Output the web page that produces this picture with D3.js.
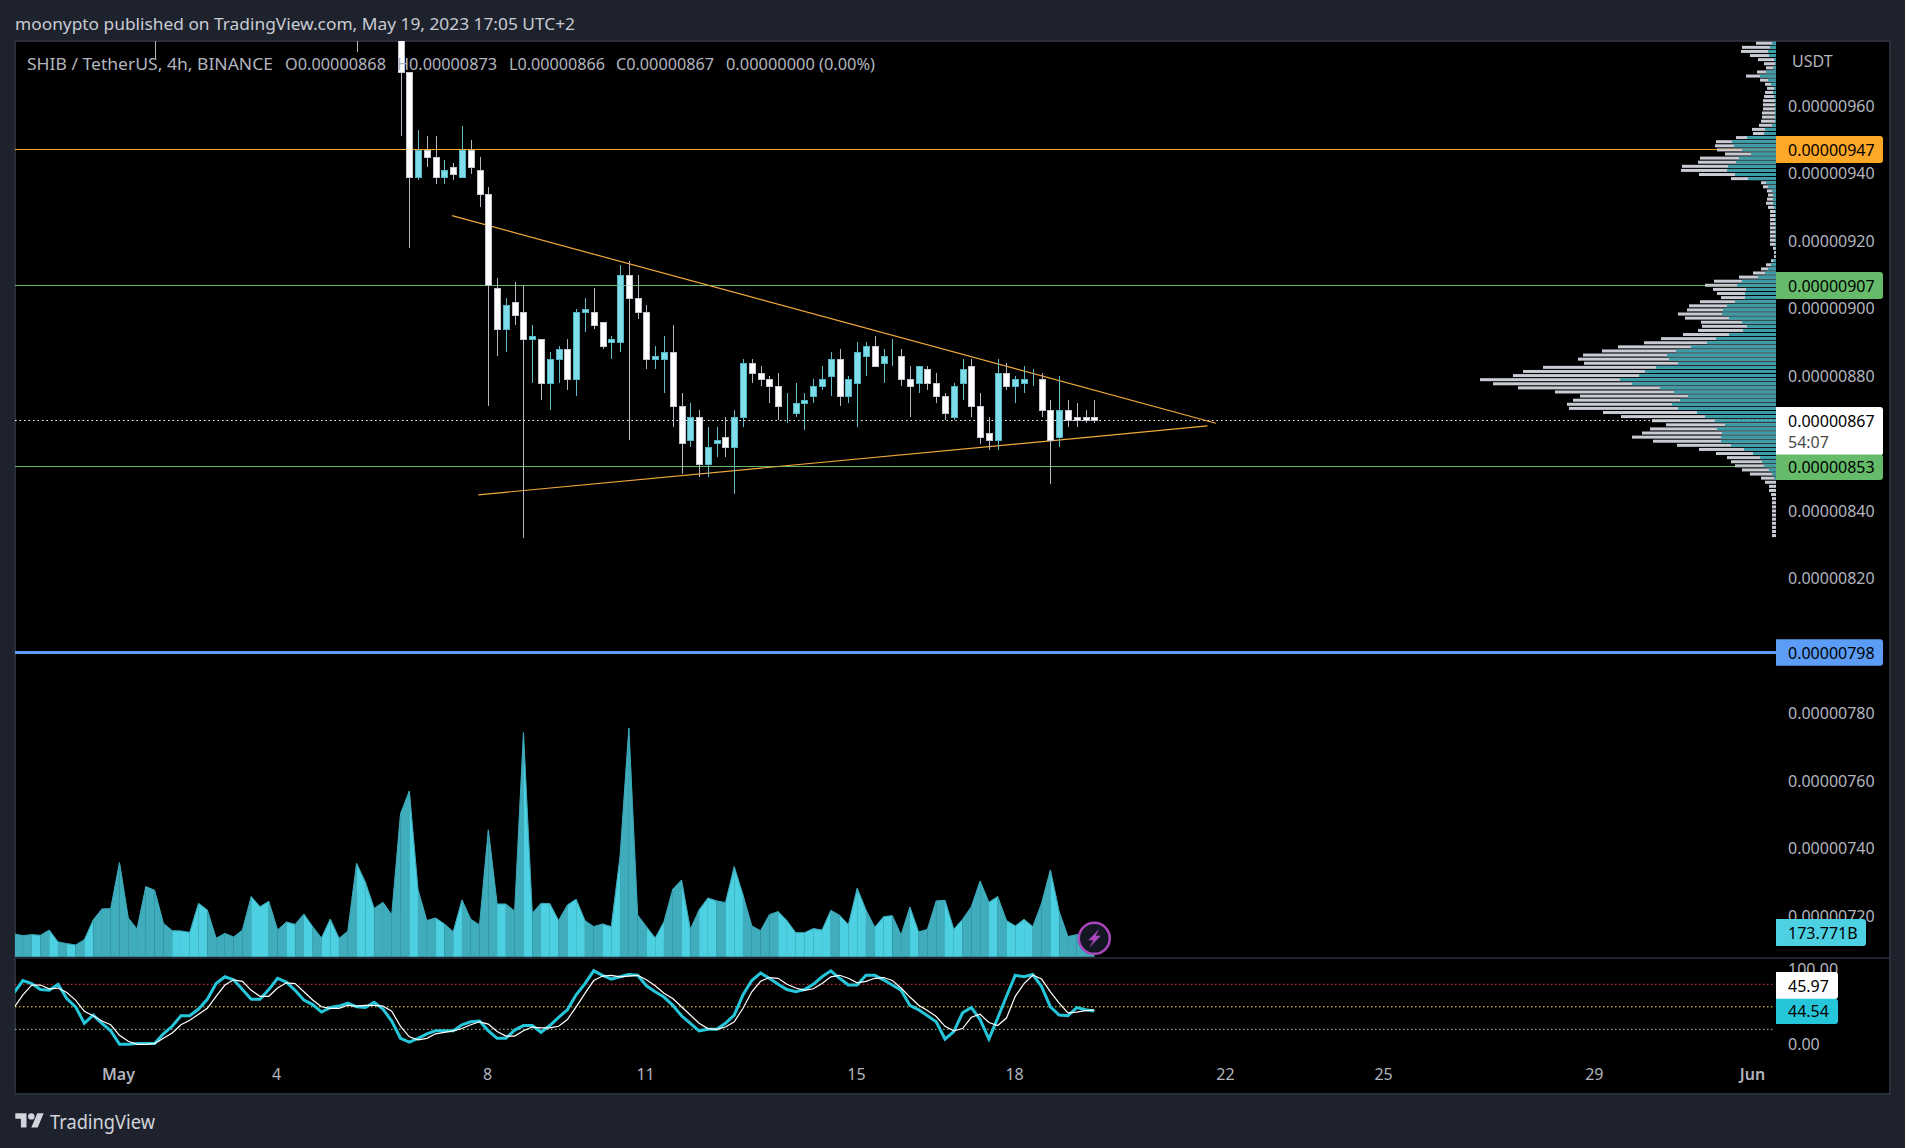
<!DOCTYPE html>
<html><head><meta charset="utf-8">
<script src="https://d3js.org/d3.v7.min.js"></script>
<style>html,body{margin:0;padding:0;background:#1E222D;overflow:hidden}svg{display:block}text{font-family:"Noto Sans",sans-serif}</style>
</head><body><svg id="c" width="1905" height="1148"></svg>
<script>
// All prices are in units of 0.00000001 USDT
const FIRST_BAR = -1;
const open  = [1000,970,939,947,945,939,942,939,947,941,934,906,894,902,899,891,891,878,885,888,879,899,899,896,890,890,910,903,899,885,885,887,871,861,868,854,860,862,859,868,884,881,879,877,870,869,872,874,877,880,885,874,878,886,889,884,886,886,879,878,882,878,874,868,878,883,871,863,861,881,877,878,879,879,870,862,870,868,868,868];
const high  = [1010,970,953,951,951,944,943,954,950,945,936,909,903,908,907,895,891,887,889,891,900,903,906,896,892,913,914,910,901,889,892,895,875,872,870,865,865,868,870,885,885,883,880,881,875,878,875,879,883,887,888,880,890,890,892,888,891,888,883,883,883,881,875,878,885,885,875,868,885,884,880,883,882,881,873,880,873,872,870,873];
const low   = [951,918,938,942,937,937,938,939,940,930,871,886,887,895,832,878,873,870,878,876,874,893,894,888,885,887,861,897,882,882,875,865,851,859,850,850,856,856,845,865,878,877,872,867,866,868,864,872,876,874,871,872,865,880,883,878,883,877,868,875,876,872,867,867,873,868,860,858,858,876,872,875,877,868,848,859,865,865,866,866];
const close = [970,939,947,945,939,941,940,947,942,934,907,894,901,898,891,892,878,885,888,879,899,900,895,889,891,910,903,899,885,886,887,871,860,868,854,859,861,859,868,884,881,879,877,871,870,872,873,877,879,885,874,879,887,889,883,886,886,879,877,883,878,874,869,877,882,871,862,861,881,877,879,879,879,870,861,870,867,867,867,867];
const earlyWickBars = [-29,-6];
const earlyWickLows = [974,976];

const FIRST_VOL_BAR = -45;
const volumes = [162,150,157,152,190,105,93,83,121,261,340,342,670,276,197,499,473,238,185,183,173,380,333,131,166,140,190,428,356,394,190,247,230,304,214,133,268,131,181,665,530,344,387,297,1017,1180,
475,257,276,233,178,404,266,226,903,375,375,325,1596,309,380,378,257,368,409,257,214,233,214,713,1627,297,214,133,249,480,546,195,333,418,397,385,641,439,219,185,299,321,257,171,171,200,190,330,295,228,487,333,209,285,292,154,354,176,195,397,401,195,266,356,539,387,428,257,219,266,214,380,618,321,143,157,170,173.771];
const earlyVolumeUp = [0,0,0,1,0,1,0,1,0,1,0,0,0,0,0,0,0,0,0,1,1,1,1,0,0,0,0,0,1,1,0,0,1,0,1,0,1,1,0,0,1,1,0,0,0];

const stochK = [69,85,81,73,72,80,61,50,28,39,28,18,0,0,1,1,1,14,24,38,38,47,60,81,90,86,73,60,60,73,88,83,72,59,53,43,49,51,55,50,49,56,47,31,8,3,8,14,18,18,18,26,30,31,18,8,
8,19,25,25,16,25,36,46,66,81,98,92,87,90,93,92,78,70,63,52,38,28,18,20,20,28,39,66,85,95,88,80,73,70,73,80,90,98,88,79,79,92,92,86,79,72,52,46,38,30,7,17,42,49,33,7,35,64,92,90,93,77,50,39,38,49,46,44.54];
const stochD = [49,66,79,79,74,75,69,59,44,38,31,26,12,4,0,0,1,8,15,26,32,40,48,64,79,86,84,72,64,64,75,82,81,70,59,50,48,48,52,51,52,52,51,44,24,10,6,8,14,16,18,21,26,30,27,17,
11,11,18,23,22,22,24,33,50,68,85,91,92,90,91,92,86,78,68,61,50,39,28,21,20,23,30,48,70,84,89,88,80,75,72,74,81,90,92,88,82,84,88,89,85,75,63,52,45,37,24,18,21,36,40,29,25,35,64,81,92,87,70,55,42,43,45,45.97];
const stochLevels = [80,50,20];
const stochLevelColors = ["#F23645","#FFEB3B","#A5D6A7"];

const PROFILE_TOP = 978.6, PROFILE_STEP = 1.2157;
const profileTotal = [60,102,105,78,54,36,30,57,90,48,33,27,33,36,39,39,39,42,42,45,51,72,69,120,180,183,177,153,228,234,282,285,231,135,45,39,27,24,27,30,24,18,18,18,18,18,18,18,18,18,9,6,6,15,30,45,69,111,186,213,189,177,165,228,261,
267,294,273,225,222,234,279,345,396,474,522,579,594,576,699,759,789,888,849,774,663,588,609,627,621,519,465,372,330,378,402,432,369,297,231,180,147,135,123,102,78,45,33,21,21,15,12,12,12,12,12,12,12,12,12,12];
const profileUp = [12,18,24,21,6,3,8,30,48,24,15,6,9,6,3,3,3,3,3,3,12,33,36,87,132,126,102,75,111,120,144,147,123,84,30,24,12,9,9,9,6,3,3,3,2,2,2,2,2,2,1,1,1,8,15,24,33,54,102,117,90,93,93,123,147,
159,162,141,102,87,99,141,180,207,255,300,327,321,294,360,393,411,468,432,348,306,264,288,312,294,237,213,183,153,177,162,165,165,135,96,69,48,42,36,21,12,6,0,0,0,0,0,0,0,0,0,0,0,0,0,0];

const priceTicks = [960,940,920,900,880,840,820,780,760,740,720];
const dayTicks = [1,4,8,11,15,18,22,25,29,32];
const dayLabels = ["May","4","8","11","15","18","22","25","29","Jun"];
const boldDayLabels = ["May","Jun"];

const hLevels = [947.2,906.9,853.2,798.2];
const hLevelColors = ["#FFA726","#66BB6A","#66BB6A","#5B9CF6"];
const hLevelWidths = [1,1,1,3];
const lastPrice = 867;
const trendDays = [[7.337,21.83],[7.836,21.67]];
const trendPrices = [[927.5,866.0],[844.8,865.2]];

const headerText = "moonypto published on TradingView.com, May 19, 2023 17:05 UTC+2";
const legendParts = ["SHIB / TetherUS, 4h, BINANCE","O0.00000868","H0.00000873","L0.00000866","C0.00000867","0.00000000 (0.00%)"];
const legendX = [27,285,397,509,616,726];
const legendW = [246,101,100,96,98,149];

// ---------- layout ----------
const L=15,R=1776,TOP=41,RIGHT=1890,BOTTOM=1094,PANE=958,VOLBASE=956.7;
const svg=d3.select("#c");
svg.append("rect").attr("width",1905).attr("height",1148).attr("fill","#1E222D");
svg.append("rect").attr("x",L).attr("y",TOP).attr("width",RIGHT-L).attr("height",BOTTOM-TOP).attr("fill","#000").attr("stroke","#2A2E39").attr("stroke-width",2);
const defs=svg.append("defs");
defs.append("clipPath").attr("id","main").append("rect").attr("x",L).attr("y",TOP).attr("width",R-L).attr("height",PANE-TOP);
defs.append("clipPath").attr("id","sub").append("rect").attr("x",L).attr("y",PANE).attr("width",R-L).attr("height",BOTTOM-PANE);

const x=d3.scaleLinear([0,78],[409.3,1094.3]);
const xDay=d3.scaleLinear([1,32],[118,1752]);
const y=d3.scaleLinear([960,720],[106,916]);
const yVol=d3.scaleLinear([0,1627],[VOLBASE,728.2]);
const yS=d3.scaleLinear([0,100],[1044.3,969.3]);
const xProf=d3.scaleLinear([0,888],[R,1480]);

const main=svg.append("g").attr("clip-path","url(#main)");

// volume (drawn per bar segment)
const volUp=i=>{const b=i+FIRST_VOL_BAR;return b<0?earlyVolumeUp[i]===1:close[b-FIRST_BAR]>=open[b-FIRST_BAR];};
const volArea=d3.area().x(d=>x(d.b)).y0(VOLBASE).y1(d=>yVol(d.v));
const volLine=d3.line().x(d=>x(d.b)).y(d=>yVol(d.v));
const vg=main.append("g");
volumes.forEach((v,i)=>{ if(i===0) return;
  const seg=[{b:i-1+FIRST_VOL_BAR,v:volumes[i-1]},{b:i+FIRST_VOL_BAR,v}];
  vg.append("path").attr("d",volArea(seg)).attr("fill",volUp(i)?"#4DD0E1":"#40ADBD").attr("stroke",volUp(i)?"#4DD0E1":"#40ADBD").attr("stroke-width",0.3);
});
vg.append("path").attr("d",volLine(volumes.map((v,i)=>({b:i+FIRST_VOL_BAR,v})))).attr("fill","none").attr("stroke","#3AA9BA").attr("stroke-width",1);

// horizontal levels and last price
const snap=(p,w)=>w===1?Math.floor(y(p))+.5:y(p);
function drawLevels(g,op){
  hLevels.forEach((p,i)=>g.append("line").attr("x1",L).attr("x2",R).attr("y1",snap(p,hLevelWidths[i])).attr("y2",snap(p,hLevelWidths[i])).attr("stroke",hLevelColors[i]).attr("stroke-width",hLevelWidths[i]).attr("opacity",op).attr("shape-rendering","crispEdges"));
  g.append("line").attr("x1",L).attr("x2",R).attr("y1",420.5).attr("y2",420.5).attr("stroke","#fff").attr("stroke-width",1).attr("stroke-dasharray","1.5,3").attr("opacity",op);
}
drawLevels(main,1);

// trendlines
const tl=d3.line().x(d=>xDay(d[0])).y(d=>y(d[1]));
trendDays.forEach((days,k)=>main.append("path").attr("d",tl(days.map((d,j)=>[d,trendPrices[k][j]]))).attr("stroke","#F2A93B").attr("stroke-width",1.2).attr("fill","none"));

// early wicks
earlyWickBars.forEach((b,i)=>main.append("line").attr("x1",Math.round(x(b))+.5).attr("x2",Math.round(x(b))+.5).attr("y1",y(1000)).attr("y2",y(earlyWickLows[i])).attr("stroke","#B4B6BE"));

// candles
open.forEach((o,i)=>{
  const b=i+FIRST_BAR,c=close[i],up=c>=o,cx=Math.round(x(b));
  main.append("line").attr("x1",cx+.5).attr("x2",cx+.5).attr("y1",y(high[i])).attr("y2",y(low[i])).attr("stroke",up?"#5FB9C6":"#B4B6BE").attr("shape-rendering","crispEdges");
  const t=Math.round(y(Math.max(o,c))),h=Math.round(y(Math.min(o,c)))-t;
  main.append("rect").attr("x",cx-2.5).attr("y",t+.5).attr("width",6).attr("height",Math.max(h,0)).attr("fill",up?"#7FDDE9":"#fff").attr("stroke",up?"#51B5C4":"#C4C6CF").attr("stroke-width",1).attr("shape-rendering","crispEdges");
});

// volume profile
const prof=main.append("g");
profileTotal.forEach((t,i)=>{
  const p=PROFILE_TOP-i*PROFILE_STEP,yy=y(p)-1.5;
  prof.append("rect").attr("x",xProf(t)).attr("y",yy).attr("width",R-xProf(t)).attr("height",3).attr("fill","#C8CBD4");
  if(profileUp[i]>0) prof.append("rect").attr("x",xProf(profileUp[i])).attr("y",yy).attr("width",R-xProf(profileUp[i])).attr("height",3).attr("fill","#3A9CA9");
});
drawLevels(main.append("g"),0.25);

// bolt button
const bolt=svg.append("g").attr("transform",`translate(${x(78)},938.3)`);
bolt.append("circle").attr("r",15.5).attr("fill","#131722").attr("stroke","#AB47BC").attr("stroke-width",2.5);
bolt.append("path").attr("d","M5,-9.5 L-6,2 L-1,2 L-5,9.5 L6.5,-2.5 L1.5,-2.5 Z").attr("fill","#AB47BC");

// pane divider
svg.append("line").attr("x1",L).attr("x2",RIGHT).attr("y1",PANE).attr("y2",PANE).attr("stroke","#2A2E39").attr("stroke-width",1.5);

// stoch pane
const sub=svg.append("g").attr("clip-path","url(#sub)");
stochLevels.forEach((v,i)=>sub.append("line").attr("x1",L).attr("x2",1774).attr("y1",yS(v)).attr("y2",yS(v)).attr("stroke",stochLevelColors[i]).attr("stroke-dasharray","1.5,2.5"));
const sl=d3.line().x((d,i)=>x(i+FIRST_VOL_BAR)).y(d=>yS(d));
sub.append("path").attr("d",sl(stochK)).attr("fill","none").attr("stroke","#26C6DA").attr("stroke-width",3);
sub.append("path").attr("d",sl(stochD)).attr("fill","none").attr("stroke","#fff").attr("stroke-width",1.2);

// axes
const fmtPrice=d=>(d*1e-8).toFixed(8);
const priceAxis=d3.axisRight(y).tickValues(priceTicks).tickFormat(fmtPrice).tickSize(0).tickPadding(0);
const pa=svg.append("g").attr("transform","translate(1788,0)").call(priceAxis);
pa.select(".domain").remove();
pa.selectAll("text").attr("fill","#B2B5BE").attr("font-size",16).attr("font-family",'"Noto Sans",sans-serif');

const timeAxis=d3.axisBottom(xDay).tickValues(dayTicks).tickFormat((d,i)=>dayLabels[i]).tickSize(0).tickPadding(0);
const ta=svg.append("g").attr("transform","translate(0,1074.5)").call(timeAxis);
ta.select(".domain").remove();
ta.selectAll("text").attr("fill","#B2B5BE").attr("font-size",16).attr("font-family",'"Noto Sans",sans-serif').attr("dy",".35em")
  .attr("font-weight",function(){return boldDayLabels.includes(this.textContent)?600:400;});

const stochAxis=d3.axisRight(yS).tickValues([100,0]).tickFormat(d=>d.toFixed(2)).tickSize(0).tickPadding(0);
const sa=svg.append("g").attr("transform","translate(1788,0)").call(stochAxis);
sa.select(".domain").remove();
sa.selectAll("text").attr("fill","#B2B5BE").attr("font-size",16).attr("font-family",'"Noto Sans",sans-serif');

// labels
function tag(x0,x1,y0,y1,fill,txt,txtY,col){
  const r=3;
  svg.append("path").attr("d",`M${x0},${y0}H${x1-r}Q${x1},${y0} ${x1},${y0+r}V${y1-r}Q${x1},${y1} ${x1-r},${y1}H${x0}Z`).attr("fill",fill);
  if(txt) svg.append("text").attr("x",1788).attr("y",txtY).attr("dy",".35em").attr("font-size",16).attr("fill",col||"#000").text(txt);
}
tag(R,1883,136,163,"#FFA726",fmtPrice(947),150.5);
tag(R,1883,272,299,"#66BB6A",fmtPrice(907),286);
tag(R,1883,407,455.5,"#FFFFFF",fmtPrice(867),421);
svg.append("text").attr("x",1788).attr("y",442).attr("dy",".35em").attr("font-size",16).attr("fill","#4A4A4A").text("54:07");
tag(R,1883,454.5,480,"#66BB6A",fmtPrice(853),467);
tag(R,1883,639.3,665.7,"#5B9CF6",fmtPrice(798),653);
tag(R,1866,919,946,"#4DD0E1","173.771B",933);
tag(R,1838,972,999,"#FFFFFF",stochD[stochD.length-1].toFixed(2),986);
tag(R,1838,998.7,1024,"#26C6DA",stochK[stochK.length-1].toFixed(2),1011.5);

svg.append("text").attr("x",1792).attr("y",61.5).attr("dy",".35em").attr("font-size",16).attr("fill","#B2B5BE").text("USDT");
svg.append("text").attr("x",15).attr("y",24).attr("dy",".35em").attr("font-size",17).attr("textLength",560).attr("lengthAdjust","spacingAndGlyphs").attr("fill","#C8CBD3").text(headerText);
legendParts.forEach((t,i)=>svg.append("text").attr("x",legendX[i]).attr("y",64).attr("dy",".35em").attr("font-size",16.5).attr("textLength",legendW[i]).attr("lengthAdjust","spacingAndGlyphs").attr("fill","#B2B5BE").text(t));

// logo
const logo=svg.append("g").attr("transform","translate(15.3,1110) scale(0.8)").attr("fill","#D1D4DC");
logo.append("path").attr("d","M14 22H7V11H0V4h14v18zM28 22h-8l7.5-18h8L28 22z");
logo.append("circle").attr("cx",20).attr("cy",8).attr("r",4);
svg.append("text").attr("x",50).attr("y",1122).attr("dy",".35em").attr("font-size",19).attr("textLength",105).attr("lengthAdjust","spacingAndGlyphs").attr("fill","#D1D4DC").text("TradingView");
</script></body></html>
